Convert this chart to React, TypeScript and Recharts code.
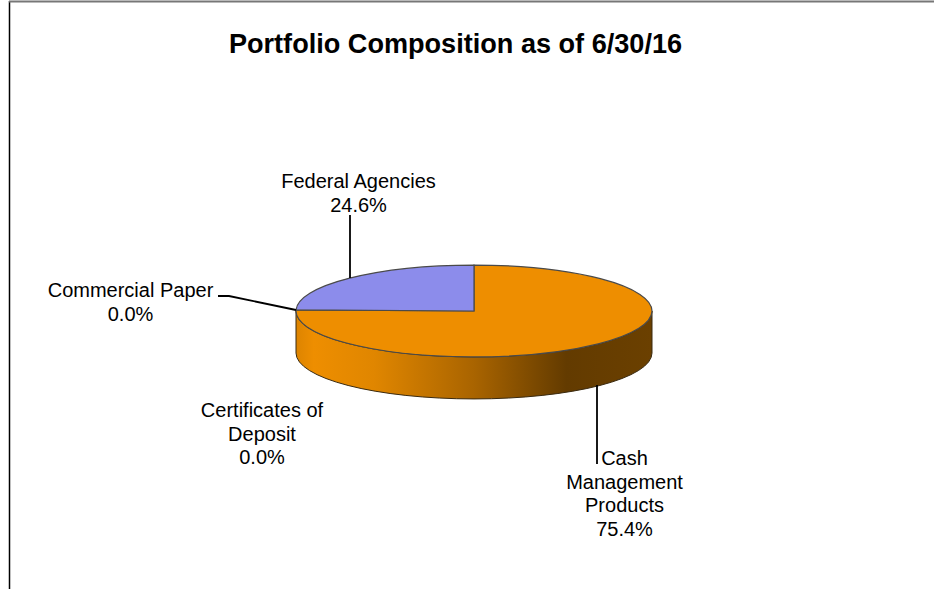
import { PieChart, Pie, Sector } from "recharts"

const FONT = '"Liberation Sans", Arial, sans-serif'

const categories = [
  "Cash Management Products",
  "Certificates of Deposit",
  "Commercial Paper",
  "Federal Agencies",
]
const shares = [75.4, 0.0, 0.0, 24.6]
const sliceColors = ["#ee8e00", "#cc6600", "#3f3fbf", "#8c8ceb"]

const data = categories.map((name, i) => ({ name, value: shares[i], fill: sliceColors[i] }))

// how each label wraps, and where it sits
const labelWraps = [
  ["Cash", "Management", "Products"],
  ["Certificates of", "Deposit"],
  ["Commercial Paper"],
  ["Federal Agencies"],
]
const labelCenters = [
  { x: 624.5, y: 465 },
  { x: 262, y: 417 },
  { x: 130.5, y: 297 },
  { x: 358.5, y: 188 },
]
const leaderLines = [
  "597,385 597,464",
  "",
  "218,296 229,296 296,310",
  "350,215 350,278",
]

const CX = 474
const CY = 311
const RX = 178
const SQUASH = 0.258
const DEPTH = 42
const LINE_H = 23.5

function PieSlice(props: any) {
  const { cx, cy, outerRadius, startAngle, endAngle, fill } = props
  if (startAngle === endAngle) return null
  const ry = outerRadius * SQUASH

  // wall only shows on the front half of the disc
  const hi = Math.min(startAngle, 0)
  const lo = Math.max(endAngle, -180)
  let wall = null
  if (hi > lo) {
    const x1 = cx + outerRadius * Math.cos((hi * Math.PI) / 180)
    const y1 = cy - ry * Math.sin((hi * Math.PI) / 180)
    const x2 = cx + outerRadius * Math.cos((lo * Math.PI) / 180)
    const y2 = cy - ry * Math.sin((lo * Math.PI) / 180)
    const d =
      `M${x1},${y1} A${outerRadius},${ry} 0 0 1 ${x2},${y2} ` +
      `L${x2},${y2 + DEPTH} A${outerRadius},${ry} 0 0 0 ${x1},${y1 + DEPTH} Z`
    wall = <path d={d} fill="url(#wallShade)" stroke="#3a2a10" strokeWidth={1} />
  }

  return (
    <g>
      {wall}
      <g transform={`translate(${cx} ${cy}) scale(1 ${SQUASH}) translate(${-cx} ${-cy})`}>
        <Sector
          cx={cx}
          cy={cy}
          innerRadius={0}
          outerRadius={outerRadius}
          startAngle={startAngle}
          endAngle={endAngle}
          fill={fill}
          stroke="#4a4a4a"
          strokeWidth={1.2}
          vectorEffect="non-scaling-stroke"
        />
      </g>
    </g>
  )
}

function SliceLabel(props: any) {
  const i = props.index
  const pos = labelCenters[i]
  const lines = [...labelWraps[i], `${shares[i].toFixed(1)}%`]
  return (
    <g>
      {leaderLines[i] && (
        <polyline points={leaderLines[i]} fill="none" stroke="#000" strokeWidth={1.8} />
      )}
      <text x={pos.x} y={pos.y} textAnchor="middle" fontFamily={FONT} fontSize={20} fill="#000">
        {lines.map((line, n) => (
          <tspan key={n} x={pos.x} y={pos.y + n * LINE_H}>
            {line}
          </tspan>
        ))}
      </text>
    </g>
  )
}

export default function App() {
  return (
    <div style={{ position: "absolute", left: 0, top: 0, width: 934, height: 589, background: "#fff" }}>
      <PieChart width={934} height={589} margin={{ top: 0, right: 0, bottom: 0, left: 0 }}>
        <defs>
          <linearGradient id="wallShade" x1="0" y1="0" x2="1" y2="0">
            <stop offset="0" stopColor="#dd8400" />
            <stop offset="0.05" stopColor="#ee8e00" />
            <stop offset="0.22" stopColor="#e08600" />
            <stop offset="0.5" stopColor="#a96400" />
            <stop offset="0.76" stopColor="#633b00" />
            <stop offset="1" stopColor="#6b4000" />
          </linearGradient>
        </defs>
        <line x1={9.5} y1={1} x2={9.5} y2={589} stroke="#000" strokeWidth={1.5} />
        <line x1={9} y1={1.5} x2={934} y2={1.5} stroke="#777" strokeWidth={2} />
        <text x={455.5} y={53} textAnchor="middle" fontFamily={FONT} fontSize={27.1} fontWeight="bold" fill="#000">
          Portfolio Composition as of 6/30/16
        </text>
        <Pie
          data={data}
          dataKey="value"
          nameKey="name"
          cx={CX}
          cy={CY}
          innerRadius={0}
          outerRadius={RX}
          startAngle={90}
          endAngle={-270}
          shape={PieSlice}
          label={SliceLabel}
          labelLine={false}
          isAnimationActive={false}
        />
      </PieChart>
    </div>
  )
}
